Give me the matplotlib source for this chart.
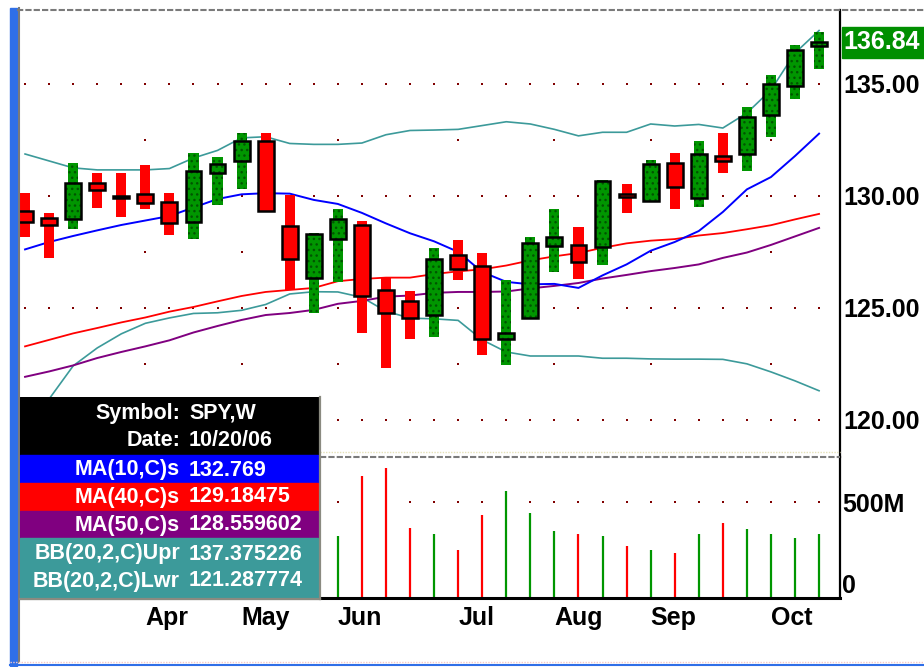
"""
Weekly SPY candlestick chart with moving averages, Bollinger bands and volume.
"""

import matplotlib
matplotlib.use("Agg")
import matplotlib.pyplot as plt
import matplotlib.transforms as mtransforms
from matplotlib.patches import Rectangle
from matplotlib.lines import Line2D

# =============================================================================
# DATA  (SPY weekly bars, week of 27 Feb 2006 .. week of 16 Oct 2006)
# =============================================================================
opens = [129.31, 129.01, 128.97, 130.56, 129.97, 130.06, 129.70, 128.84, 130.99, 131.55,
         132.44, 128.66, 126.34, 128.07, 128.67, 125.80, 125.31, 124.68, 127.35, 126.87,
         123.61, 124.55, 127.76, 127.81, 127.70, 130.08, 129.77, 131.45, 129.90, 131.75,
         131.84, 133.61, 134.90, 136.68]
highs = [130.11, 129.21, 131.45, 131.00, 131.00, 131.36, 130.11, 131.89, 131.71, 132.79,
         132.79, 130.02, 128.35, 129.39, 128.87, 126.38, 125.75, 127.67, 128.02, 127.43,
         126.24, 128.14, 129.39, 128.59, 130.70, 130.52, 131.59, 131.89, 132.43, 132.79,
         133.95, 135.38, 136.71, 137.31]
lows = [128.17, 127.21, 128.53, 129.46, 129.06, 129.42, 128.26, 128.05, 129.60, 130.31,
        129.27, 125.79, 124.78, 126.15, 123.88, 122.32, 123.62, 123.71, 126.24, 122.90,
        122.46, 124.48, 126.61, 126.27, 126.91, 129.24, 129.72, 129.42, 129.48, 131.03,
        131.12, 132.63, 134.33, 135.67]
closes = [128.84, 128.70, 130.56, 130.26, 129.89, 129.68, 128.79, 131.10, 131.40, 132.44,
          129.32, 127.18, 128.30, 128.95, 125.50, 124.77, 124.55, 127.18, 126.73, 123.61,
          123.87, 127.90, 128.16, 127.04, 130.65, 129.92, 131.40, 130.39, 131.87, 131.55,
          133.52, 134.97, 136.51, 136.84]

ma10 = [127.60, 127.93, 128.20, 128.45, 128.69, 128.89, 129.09, 129.47, 129.85, 130.06,
        130.11, 130.09, 129.81, 129.63, 129.23, 128.76, 128.32, 127.96, 127.49, 126.59,
        126.15, 126.04, 126.06, 125.88, 126.44, 126.93, 127.54, 127.93, 128.42, 129.27,
        130.28, 130.83, 131.77, 132.769]
ma40 = [123.27, 123.56, 123.85, 124.09, 124.34, 124.56, 124.82, 125.03, 125.28, 125.52,
        125.70, 125.79, 125.88, 126.18, 126.28, 126.34, 126.34, 126.50, 126.62, 126.71,
        126.88, 127.11, 127.29, 127.44, 127.67, 127.87, 127.99, 128.06, 128.22, 128.33,
        128.50, 128.68, 128.94, 129.185]
ma50 = [121.91, 122.15, 122.42, 122.75, 123.02, 123.27, 123.54, 123.89, 124.18, 124.45,
        124.67, 124.76, 124.90, 125.17, 125.30, 125.49, 125.54, 125.66, 125.70, 125.70,
        125.72, 125.86, 125.97, 126.10, 126.30, 126.46, 126.63, 126.77, 126.93, 127.22,
        127.46, 127.80, 128.18, 128.560]
bb_upper = [131.86, 131.55, 131.24, 131.15, 131.15, 131.15, 131.21, 131.68, 132.02, 132.58,
            132.63, 132.33, 132.29, 132.29, 132.35, 132.72, 132.91, 132.93, 132.96, 133.13,
            133.30, 133.20, 132.96, 132.67, 132.83, 132.83, 133.20, 133.11, 133.18, 133.02,
            133.69, 134.72, 136.37, 137.375]
bb_lower = [119.50, 120.92, 122.40, 123.20, 123.83, 124.30, 124.54, 124.74, 124.77, 124.88,
            125.14, 125.61, 125.71, 125.70, 125.46, 124.84, 124.53, 124.50, 124.43, 123.56,
            123.02, 122.84, 122.84, 122.84, 122.74, 122.74, 122.71, 122.70, 122.70, 122.69,
            122.49, 122.13, 121.73, 121.288]

# volume pane only shows the last 21 weeks (millions of shares)
volume_weeks = list(range(13, 34))
volume_m = [322, 636, 677, 364, 337, 250, 433, 560, 445, 348, 337,
            322, 274, 253, 237, 337, 390, 359, 337, 316, 337]

month_labels = ["Apr", "May", "Jun", "Jul", "Aug", "Sep", "Oct"]
month_weeks = [5, 9, 13, 18, 22, 26, 31]

price_ticks = [120, 125, 130, 135]
price_minor = [122.5, 127.5, 132.5]
volume_ticks = [0, 500]
volume_tick_labels = ["0", "500M"]

legend_labels = ["Symbol:", "Date:", "MA(10,C)s", "MA(40,C)s", "MA(50,C)s",
                 "BB(20,2,C)Upr", "BB(20,2,C)Lwr"]
legend_values = ["SPY,W", "10/20/06", "132.769", "129.18475", "128.559602",
                 "137.375226", "121.287774"]

# =============================================================================
# STYLE
# =============================================================================
W, H = 924, 667
GREEN = "#009600"
GREEN_DOT = "#005500"
RED = "#ff0000"
BLUE = "#0000ff"
PURPLE = "#800080"
TEAL = "#3c9a9a"
DOT = "#800000"
FRAME_BLUE = "#2f6fe8"
FRAME_GRAY = "#7a7a7a"

plt.rcParams["font.family"] = ["Liberation Sans", "DejaVu Sans"]
plt.rcParams["font.weight"] = "bold"


def box(x0, y0, x1, y1):
    """pixel box (top-left origin) -> figure fraction rect"""
    return [x0 / W, 1 - y1 / H, (x1 - x0) / W, (y1 - y0) / H]


def fig_line(fig, x0, y0, x1, y1, **kw):
    fig.add_artist(Line2D([x0 / W, x1 / W], [1 - y0 / H, 1 - y1 / H],
                          transform=fig.transFigure, **kw))


fig = plt.figure(figsize=(W / 100, H / 100), dpi=100)

# ---- frame decoration ------------------------------------------------------
fig.add_artist(Rectangle((10 / W, 1 - 666 / H), 7 / W, 658 / H, color=FRAME_BLUE,
                         transform=fig.transFigure, zorder=0))
fig_line(fig, 18.5, 8, 18.5, 662, color=FRAME_GRAY, lw=1.5)
fig_line(fig, 17, 9.5, 924, 9.5, color=FRAME_GRAY, lw=1.5, ls=(0, (3, 1)))
fig_line(fig, 20, 452, 840, 452, color="#e4e0b8", lw=1.0, ls=(0, (1, 1)))
fig_line(fig, 20, 456.5, 840, 456.5, color=FRAME_GRAY, lw=1.5, ls=(0, (3, 1)))
fig_line(fig, 10, 661.5, 924, 661.5, color="#f4c8c8", lw=1.0, ls=(0, (1, 1)))
fig_line(fig, 10, 665, 924, 665, color=FRAME_BLUE, lw=1.5)

n = len(closes)
x = list(range(n))
xlim = (-0.21, 33.87)

# =============================================================================
# PRICE PANE
# =============================================================================
ax = fig.add_axes(box(20, 10, 840, 457))
ax.set_facecolor("none")
ax.set_xlim(*xlim)
ax.set_ylim(118.33, 138.29)
for side in ("left", "top", "bottom"):
    ax.spines[side].set_visible(False)
ax.spines["right"].set_linewidth(1.6)
ax.set_xticks([])
ax.yaxis.tick_right()
ax.set_yticks(price_ticks)
ax.set_yticklabels([f"{t:.2f}" for t in price_ticks])
ax.tick_params(axis="y", length=0, pad=2.5, labelsize=18)

# dotted grid
gx = [i for lv in price_ticks for i in x]
gy = [lv for lv in price_ticks for i in x]
ax.scatter(gx, gy, s=3, marker="s", color=DOT, linewidths=0, zorder=1)
mx = [i for lv in price_minor for i in month_weeks]
my = [lv for lv in price_minor for i in month_weeks]
ax.scatter(mx, my, s=3, marker="s", color=DOT, linewidths=0, zorder=1)

# indicator lines
ax.plot(x, bb_upper, color=TEAL, lw=1.2, zorder=2)
ax.plot(x, bb_lower, color=TEAL, lw=1.2, zorder=2)
ax.plot(x, ma50, color=PURPLE, lw=1.4, zorder=2)
ax.plot(x, ma40, color=RED, lw=1.3, zorder=2)
ax.plot(x, ma10, color=BLUE, lw=1.4, zorder=2)

# candles
up = [c >= o for o, c in zip(opens, closes)]
for is_up in (True, False):
    idx = [i for i in x if up[i] == is_up]
    lo = [lows[i] for i in idx]
    rng = [highs[i] - lows[i] for i in idx]
    b_lo = [min(opens[i], closes[i]) for i in idx]
    b_h = [abs(closes[i] - opens[i]) for i in idx]
    if is_up:
        fill = dict(color=GREEN, edgecolor=GREEN_DOT, linewidth=0, hatch="...")
    else:
        fill = dict(color=RED, linewidth=0)
    ax.bar(idx, rng, bottom=lo, width=0.42, zorder=3, **fill)
    ax.bar(idx, b_h, bottom=b_lo, width=0.66, zorder=4, **fill)
    ax.bar(idx, b_h, bottom=b_lo, width=0.66, zorder=5, fill=False,
           edgecolor="black", linewidth=1.8)

# last price flag
flag_tr = mtransforms.blended_transform_factory(ax.transAxes, ax.transData)
ax.add_patch(Rectangle((1 + 2 / 820, closes[-1] - 0.70), 0.105, 1.40, transform=flag_tr,
                       color="#008f00", clip_on=False, zorder=6))
ax.text(1 + 3 / 820, closes[-1], f"{closes[-1]:.2f}", transform=flag_tr, color="white",
        fontsize=18, fontweight="bold", ha="left", va="center", clip_on=False, zorder=7)

# =============================================================================
# VOLUME PANE
# =============================================================================
axv = fig.add_axes(box(20, 457, 840, 598))
axv.set_facecolor("none")
axv.set_xlim(*xlim)
axv.set_ylim(0, 737)
for side in ("left", "top"):
    axv.spines[side].set_visible(False)
axv.spines["right"].set_linewidth(1.6)
axv.spines["bottom"].set_linewidth(2.2)
axv.yaxis.tick_right()
axv.set_yticks(volume_ticks)
axv.set_yticklabels(volume_tick_labels)
axv.tick_params(axis="y", length=0, pad=1.5, labelsize=18)
axv.get_yticklabels()[0].set_va("bottom")

axv.scatter(x, [500] * n, s=3, marker="s", color=DOT, linewidths=0, zorder=1)
vcol = [GREEN if up[i] else RED for i in volume_weeks]
axv.vlines(volume_weeks, 0, volume_m, colors=vcol, lw=1.6, zorder=2)

axv.set_xticks(month_weeks)
axv.set_xticklabels(month_labels)
axv.tick_params(axis="x", length=0, pad=6, labelsize=18)
for lab in axv.get_xticklabels():
    lab.set_ha("left")

# =============================================================================
# DATA WINDOW (legend box)
# =============================================================================
axl = fig.add_axes(box(20, 397, 320, 599))
axl.set_zorder(10)
axl.set_xlim(20, 320)
axl.set_ylim(599, 397)
axl.set_xticks([])
axl.set_yticks([])
for side in ("left", "top"):
    axl.spines[side].set_visible(False)
for side in ("right", "bottom"):
    axl.spines[side].set_color("#8a8a80")
    axl.spines[side].set_linewidth(1.6)

row_bands = [("black", 397, 455), (BLUE, 455, 483), (RED, 483, 511),
             (PURPLE, 511, 538), (TEAL, 538, 599)]
for col, y0, y1 in row_bands:
    axl.add_patch(Rectangle((20, y0), 298, y1 - y0, color=col, zorder=1))

row_y = [413, 440, 470, 497, 525, 554, 581]
for lab, val, yy in zip(legend_labels, legend_values, row_y):
    axl.text(180, yy, lab, color="white", fontsize=15.5, fontweight="bold",
             ha="right", va="center", zorder=3)
    axl.text(189, yy, val, color="white", fontsize=15.5, fontweight="bold",
             ha="left", va="center", zorder=3)

fig.savefig("out.png", dpi=100, facecolor="white")
